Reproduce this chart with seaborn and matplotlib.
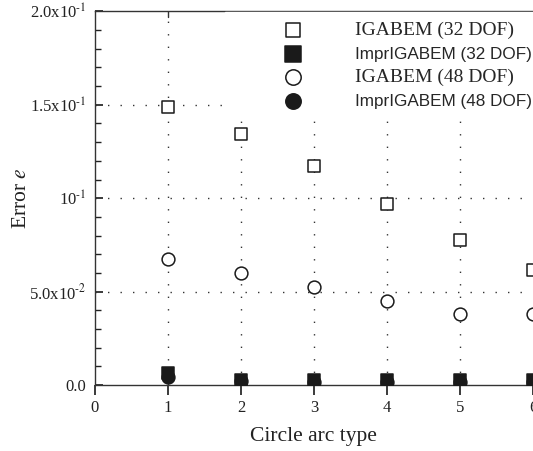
import matplotlib
matplotlib.use("Agg")
import matplotlib.pyplot as plt
import seaborn as sns
import pandas as pd
from matplotlib.ticker import FixedLocator, MultipleLocator

arc_type = [1, 2, 3, 4, 5, 6]
igabem_32 = [0.1487, 0.1342, 0.1171, 0.0968, 0.0775, 0.0615]
impr_32 = [0.0064, 0.0030, 0.0027, 0.0026, 0.0026, 0.0026]
igabem_48 = [0.0674, 0.0599, 0.0524, 0.0449, 0.0380, 0.0380]
impr_48 = [0.0043, 0.0020, 0.0018, 0.0017, 0.0017, 0.0017]

series_labels = ["IGABEM (32 DOF)", "ImprIGABEM (32 DOF)", "IGABEM (48 DOF)", "ImprIGABEM (48 DOF)"]
y_ticks = [0.0, 0.05, 0.1, 0.15, 0.2]
y_ticklabels = ["0.0", r"5.0x10$^{\text{-}2}$", r"10$^{\text{-}1}$", r"1.5x10$^{\text{-}1}$", r"2.0x10$^{\text{-}1}$"]
x_ticks = [0, 1, 2, 3, 4, 5, 6]

sns.set_theme(style="ticks")
plt.rcParams["font.family"] = ["Liberation Serif", "DejaVu Serif"]
plt.rcParams["mathtext.fontset"] = "stix"

fig = plt.figure(figsize=(5.33, 4.51), dpi=100)
ax = fig.add_axes([0.178, 0.146, 0.822, 0.829])

styles = [
    (igabem_32, "s", "white", 70),
    (impr_32, "s", "#1a1a1a", 85),
    (igabem_48, "o", "white", 85),
    (impr_48, "o", "#1a1a1a", 85),
]
for (vals, mk, fc, sz), lab in zip(styles, series_labels):
    df = pd.DataFrame({"x": arc_type, "y": vals})
    sns.scatterplot(data=df, x="x", y="y", ax=ax, marker=mk, s=sz,
                    facecolor=fc, edgecolor="#1a1a1a", linewidth=1.1,
                    label=lab, clip_on=True, zorder=3)

ax.set_xlim(0, 6)
ax.set_ylim(0, 0.2)
ax.xaxis.set_major_locator(FixedLocator(x_ticks))
ax.set_xticklabels([str(t) for t in x_ticks])
ax.set_yticks(y_ticks)
ax.set_yticklabels(y_ticklabels)
ax.yaxis.set_minor_locator(MultipleLocator(0.01))
ax.tick_params(axis="y", which="both", direction="in", left=True, labelsize=12, colors="#222222", pad=6)
ax.tick_params(axis="y", which="major", length=6)
ax.tick_params(axis="y", which="minor", length=4)
ax.tick_params(axis="x", which="major", direction="out", length=7, labelsize=12, colors="#222222", top=False)
for s in ["top", "left", "bottom"]:
    ax.spines[s].set_visible(True)
    ax.spines[s].set_color("#333333")
    ax.spines[s].set_linewidth(1.0)
ax.spines["right"].set_visible(False)

for xv in [1, 2, 3, 4, 5]:
    ax.axvline(xv, color="#333333", linestyle=(0, (1, 8)), linewidth=1.0, zorder=1)
    ax.plot([xv, xv], [0.2, 0.197], color="#333333", linewidth=1.0, zorder=1)
for yv in [0.05, 0.1, 0.15]:
    ax.axhline(yv, color="#333333", linestyle=(0, (1, 8)), linewidth=1.0, zorder=1)

ax.set_xlabel("Circle arc type", fontsize=15.5, color="#222222", labelpad=8)
ax.set_ylabel("Error $e$", fontsize=15.5, color="#222222", labelpad=-1)

leg = ax.legend(loc="upper left", bbox_to_anchor=(225 / 533, 1 - 12 / 451),
                bbox_transform=fig.transFigure, frameon=True, fontsize=14,
                markerscale=1.2, handlelength=6.0, handletextpad=0.2,
                labelspacing=0.32, borderpad=0.5, borderaxespad=0, fancybox=False)
leg.get_frame().set_facecolor("white")
leg.get_frame().set_edgecolor("white")
leg.get_frame().set_alpha(1.0)
leg.set_zorder(5)
for t in leg.get_texts():
    if t.get_text().startswith("Impr"):
        t.set_fontfamily(["Liberation Sans", "DejaVu Sans"])
        t.set_fontsize(12.3)

fig.savefig("out.png", dpi=100)
